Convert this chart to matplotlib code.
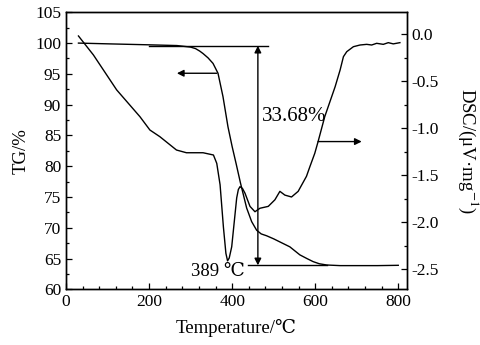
import matplotlib
matplotlib.use("Agg")
import matplotlib.pyplot as plt
from matplotlib.ticker import MultipleLocator

plt.rcParams['font.family'] = ['Liberation Serif', 'DejaVu Serif']
plt.rcParams['mathtext.fontset'] = 'stix'

# TG curve (left axis, %)
tg_temp = [30, 100, 200, 267, 300, 312, 322, 330, 342, 354, 366, 378, 390, 400,
           410, 420, 435, 447, 459, 470, 483, 500, 515, 539, 563, 580, 595,
           610, 628, 660, 700, 750, 800]
tg_val = [100.0, 99.88, 99.72, 99.6, 99.35, 99.1, 98.7, 98.3, 97.6, 96.7, 95.1,
          91.3, 86.4, 83.2, 80.3, 77.3, 73.2, 71.0, 69.6, 69.0, 68.7, 68.2, 67.7,
          66.9, 65.6, 65.0, 64.5, 64.15, 63.95, 63.85, 63.85, 63.85, 63.9]

# DSC curve (right axis, uV/mg)
dsc_temp = [30, 66, 122, 178, 202, 226, 266, 290, 330, 355, 363, 371, 379, 385,
            389, 393, 399, 405, 411, 415, 419, 425, 431, 443, 455, 467, 487, 503,
            515, 527, 543, 559, 579, 587, 599, 607, 623, 648, 660, 668, 676, 692,
            708, 724, 736, 748, 764, 776, 788, 804]
dsc_val = [-0.016, -0.218, -0.59, -0.875, -1.017, -1.088, -1.23, -1.259, -1.259,
           -1.283, -1.372, -1.6, -2.05, -2.33, -2.41, -2.38, -2.26, -2.0, -1.74,
           -1.65, -1.62, -1.64, -1.69, -1.83, -1.887, -1.85, -1.83, -1.76, -1.67,
           -1.71, -1.73, -1.67, -1.51, -1.41, -1.265, -1.14, -0.875, -0.556,
           -0.378, -0.236, -0.183, -0.13, -0.112, -0.105, -0.112, -0.094, -0.105,
           -0.087, -0.10, -0.087]

fig = plt.figure(figsize=(4.8, 3.45), dpi=100)
ax = fig.add_axes([0.1375, 0.1614, 0.7095, 0.8029])
ax2 = ax.twinx()

ax.plot(tg_temp, tg_val, color='black', lw=1.0)
ax2.plot(dsc_temp, dsc_val, color='black', lw=1.0)

ax.set_xlim(0, 820)
ax.set_ylim(60, 105)
ax2.set_ylim(-2.713, 0.236)

ax.xaxis.set_major_locator(MultipleLocator(200))
ax.xaxis.set_minor_locator(MultipleLocator(40))
ax.yaxis.set_major_locator(MultipleLocator(5))
ax.yaxis.set_minor_locator(MultipleLocator(2.5))
ax2.yaxis.set_major_locator(MultipleLocator(0.5))
ax2.yaxis.set_minor_locator(MultipleLocator(0.25))
ax2.yaxis.set_major_formatter(matplotlib.ticker.FormatStrFormatter('%.1f'))

for a in (ax, ax2):
    a.tick_params(which='both', direction='in', labelsize=12.5, width=0.9)
    a.tick_params(which='major', length=4)
    a.tick_params(which='minor', length=2.5)
    for s in a.spines.values():
        s.set_linewidth(1.0)
ax.tick_params(top=False, right=False, which='both')

ax.set_xlabel('Temperature/℃', fontsize=13.5, labelpad=6)
ax.set_ylabel('TG/%', fontsize=13.5)
ax2.set_ylabel(r'DSC/(μV·mg$^{-1}$)', fontsize=13.5, rotation=270, labelpad=30)

# reference lines and arrows
ax.plot([200, 487], [99.57, 99.57], color='black', lw=1.0)
ax.plot([439, 628], [63.9, 63.9], color='black', lw=1.0)
ax.annotate('', xy=(462, 99.57), xytext=(462, 63.9),
            arrowprops=dict(arrowstyle='<|-|>', color='black', lw=1.0,
                            mutation_scale=10, shrinkA=0, shrinkB=0))
ax.annotate('', xy=(267, 95.1), xytext=(363, 95.1),
            arrowprops=dict(arrowstyle='-|>', color='black', lw=1.0,
                            mutation_scale=10, shrinkA=0, shrinkB=0))
ax2.annotate('', xy=(712, -1.14), xytext=(607, -1.14),
             arrowprops=dict(arrowstyle='-|>', color='black', lw=1.0,
                             mutation_scale=10, shrinkA=0, shrinkB=0))

ax.text(471, 88.0, '33.68%', fontsize=15, ha='left', va='center')
ax.text(302, 62.9, '389 ℃', fontsize=13.5, ha='left', va='center')

fig.savefig('out.png', dpi=100)
